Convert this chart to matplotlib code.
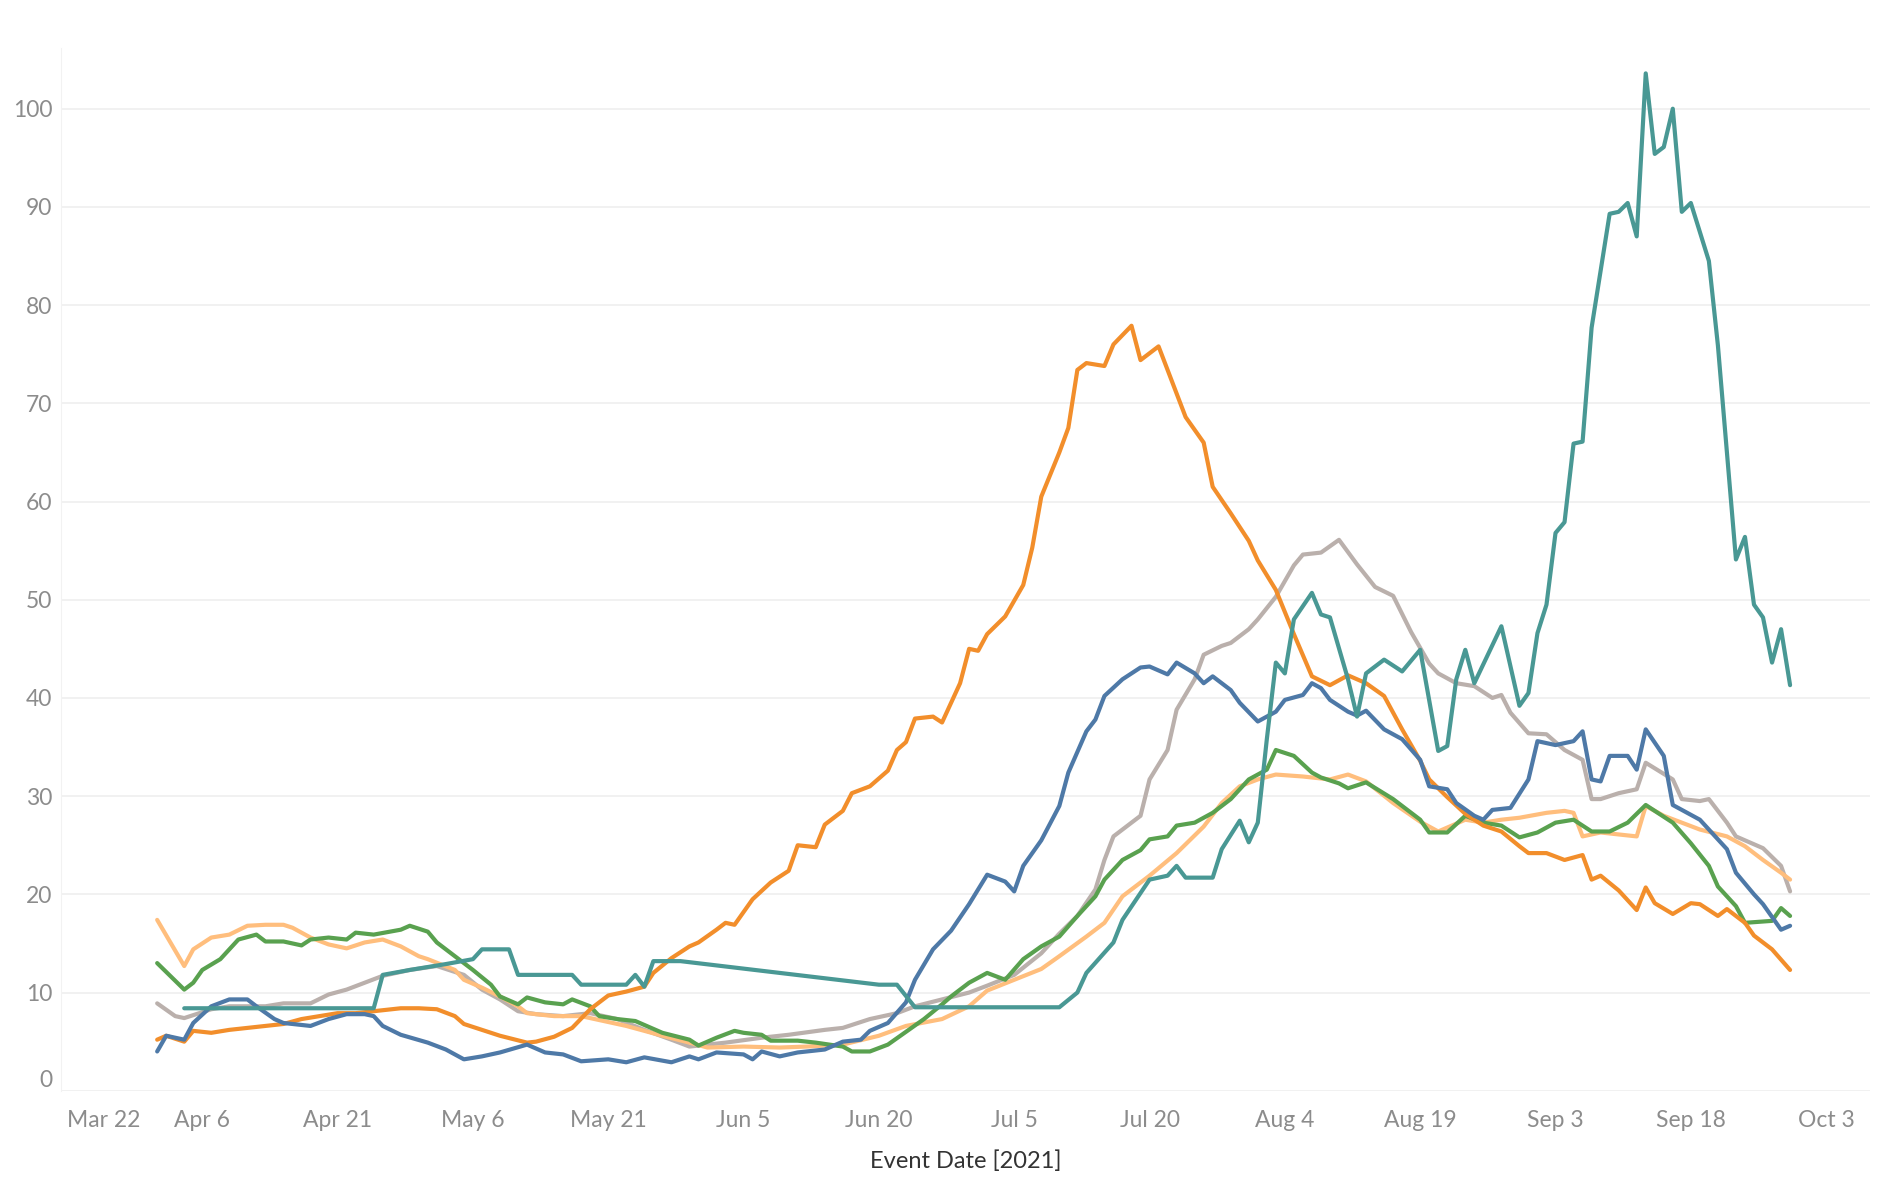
import numpy as np
import matplotlib
matplotlib.use('Agg')
import matplotlib.pyplot as plt
import matplotlib.dates as mdates

# day 0 = 2021-04-01, values are 7-day rates
start = np.datetime64('2021-04-01')

orange_days = [0, 1, 3, 4, 6, 8, 10, 12, 14, 16, 18, 20, 22, 24, 27, 29, 31, 33, 34, 36, 38, 41, 42, 44, 46,
               48, 50, 52, 54, 55, 57, 59, 60, 62, 63, 64, 66, 68, 70, 71, 73, 74, 76, 77, 79, 81, 82, 83, 84,
               86, 87, 89, 90, 91, 92, 94, 96, 97, 98, 100, 101, 102, 103, 105, 106, 108, 109, 111, 113, 114,
               116, 117, 119, 121, 122, 124, 126, 128, 130, 132, 134, 136, 138, 140, 141, 143, 145, 147, 149,
               151, 152, 154, 156, 158, 159, 160, 162, 164, 165, 166, 168, 170, 171, 173, 174, 176, 177, 179, 181]
orange_vals = [5.2, 5.6, 5.0, 6.1, 5.9, 6.2, 6.4, 6.6, 6.8, 7.3, 7.6, 7.9, 7.9, 8.1, 8.4, 8.4, 8.3, 7.6, 6.8,
               6.2, 5.6, 4.9, 5.0, 5.5, 6.4, 8.3, 9.7, 10.1, 10.6, 12.0, 13.5, 14.7, 15.1, 16.4, 17.1, 16.9,
               19.5, 21.2, 22.4, 25.0, 24.8, 27.1, 28.5, 30.3, 31.0, 32.6, 34.7, 35.5, 37.9, 38.1, 37.5, 41.5,
               45.0, 44.8, 46.5, 48.3, 51.5, 55.3, 60.5, 65.0, 67.5, 73.4, 74.1, 73.8, 76.0, 77.9, 74.4, 75.8,
               71.0, 68.6, 66.0, 61.5, 58.8, 56.0, 54.0, 51.0, 46.5, 42.2, 41.3, 42.3, 41.5, 40.2, 36.8, 33.6,
               31.7, 29.9, 28.2, 27.0, 26.4, 24.9, 24.2, 24.2, 23.5, 24.0, 21.5, 21.9, 20.4, 18.4, 20.7, 19.1,
               18.0, 19.1, 19.0, 17.8, 18.5, 17.1, 15.8, 14.4, 12.3]

peach_days = [0, 3, 4, 6, 8, 10, 12, 14, 15, 17, 19, 21, 23, 25, 27, 29, 30, 33, 34, 36, 38, 40, 41, 44, 47,
              52, 56, 59, 61, 65, 69, 72, 76, 80, 83, 87, 90, 92, 95, 98, 100, 103, 105, 107, 110, 113, 116,
              118, 120, 122, 124, 127, 130, 132, 134, 137, 140, 142, 145, 147, 149, 151, 154, 156, 157, 158,
              160, 162, 164, 165, 167, 169, 171, 174, 176, 178, 180, 181]
peach_vals = [17.4, 12.7, 14.4, 15.6, 15.9, 16.8, 16.9, 16.9, 16.6, 15.6, 14.9, 14.5, 15.1, 15.4, 14.7, 13.7,
              13.4, 12.3, 11.3, 10.5, 9.6, 8.6, 7.9, 7.6, 7.6, 6.6, 5.6, 4.9, 4.4, 4.5, 4.4, 4.5, 4.7, 5.6, 6.6,
              7.3, 8.6, 10.2, 11.3, 12.4, 13.7, 15.7, 17.1, 19.8, 21.9, 24.2, 26.9, 29.3, 31.0, 31.7, 32.2, 32.0,
              31.7, 32.2, 31.5, 29.3, 27.4, 26.4, 27.6, 27.3, 27.6, 27.8, 28.3, 28.5, 28.3, 25.9, 26.3, 26.1,
              25.9, 29.0, 28.0, 27.3, 26.6, 25.9, 24.9, 23.5, 22.2, 21.5]

green_days = [0, 3, 4, 5, 7, 9, 11, 12, 14, 16, 17, 19, 21, 22, 24, 27, 28, 30, 31, 33, 35, 37, 38, 40, 41, 43,
              45, 46, 48, 49, 51, 53, 56, 59, 60, 62, 64, 65, 67, 68, 71, 73, 76, 77, 79, 81, 83, 85, 87, 88,
              90, 92, 94, 96, 98, 100, 102, 104, 105, 107, 109, 110, 112, 113, 115, 117, 119, 121, 123, 124,
              126, 128, 129, 131, 132, 134, 137, 140, 141, 143, 145, 147, 149, 151, 153, 155, 157, 159, 161,
              163, 165, 168, 170, 172, 173, 175, 176, 179, 180, 181]
green_vals = [13.0, 10.3, 11.0, 12.3, 13.4, 15.4, 15.9, 15.2, 15.2, 14.8, 15.4, 15.6, 15.4, 16.1, 15.9, 16.4,
              16.8, 16.2, 15.1, 13.7, 12.3, 10.8, 9.6, 8.8, 9.5, 9.0, 8.8, 9.3, 8.6, 7.6, 7.3, 7.1, 5.9, 5.2,
              4.6, 5.4, 6.1, 5.9, 5.7, 5.1, 5.1, 4.9, 4.5, 4.0, 4.0, 4.7, 6.0, 7.3, 8.8, 9.6, 11.0, 12.0, 11.3,
              13.4, 14.7, 15.7, 17.8, 19.8, 21.5, 23.5, 24.5, 25.6, 25.9, 27.0, 27.3, 28.3, 29.7, 31.7, 32.7,
              34.7, 34.1, 32.4, 31.9, 31.3, 30.8, 31.4, 29.7, 27.6, 26.3, 26.3, 28.0, 27.3, 27.0, 25.8, 26.3,
              27.3, 27.6, 26.4, 26.4, 27.3, 29.1, 27.3, 25.2, 22.9, 20.8, 18.8, 17.1, 17.3, 18.6, 17.8]

grey_days = [0, 2, 3, 6, 8, 12, 14, 17, 19, 21, 23, 25, 28, 31, 34, 36, 38, 40, 42, 45, 48, 51, 54, 57, 59, 63,
             67, 70, 74, 76, 79, 82, 84, 87, 90, 92, 95, 98, 100, 102, 104, 105, 106, 108, 109, 110, 112, 113,
             115, 116, 118, 119, 121, 122, 124, 126, 127, 129, 131, 133, 135, 137, 139, 141, 142, 144, 146,
             148, 149, 150, 152, 154, 156, 158, 159, 160, 162, 164, 165, 168, 169, 171, 172, 174, 175, 178,
             180, 181]
grey_vals = [8.9, 7.6, 7.4, 8.3, 8.6, 8.6, 8.9, 8.9, 9.8, 10.3, 11.0, 11.7, 12.3, 12.7, 11.8, 10.3, 9.3, 8.1,
             7.8, 7.6, 7.9, 7.3, 6.2, 5.2, 4.5, 4.9, 5.4, 5.7, 6.2, 6.4, 7.3, 7.9, 8.6, 9.3, 10.0, 10.7, 11.8,
             14.0, 16.0, 17.8, 20.5, 23.5, 25.9, 27.3, 28.0, 31.7, 34.7, 38.8, 41.9, 44.4, 45.3, 45.6, 47.0,
             48.0, 50.3, 53.5, 54.6, 54.8, 56.1, 53.6, 51.3, 50.4, 46.7, 43.5, 42.5, 41.5, 41.2, 40.0, 40.3,
             38.5, 36.4, 36.3, 34.7, 33.7, 29.7, 29.7, 30.3, 30.7, 33.4, 31.7, 29.7, 29.5, 29.7, 27.3, 25.9,
             24.7, 22.9, 20.3]

blue_days = [0, 1, 3, 4, 6, 8, 10, 11, 13, 14, 17, 19, 21, 23, 24, 25, 27, 30, 32, 34, 36, 38, 41, 43, 45, 47,
             50, 52, 54, 57, 59, 60, 62, 65, 66, 67, 69, 71, 74, 76, 78, 79, 81, 83, 84, 86, 88, 90, 92, 94,
             95, 96, 98, 100, 101, 103, 104, 105, 107, 109, 110, 112, 113, 115, 116, 117, 119, 120, 122, 124,
             125, 127, 128, 129, 130, 132, 133, 134, 136, 138, 140, 141, 143, 144, 146, 147, 148, 150, 152,
             153, 155, 157, 158, 159, 160, 161, 163, 164, 165, 167, 168, 171, 172, 174, 175, 177, 178, 180, 181]
blue_vals = [4.0, 5.6, 5.2, 6.9, 8.6, 9.3, 9.3, 8.6, 7.3, 6.9, 6.6, 7.3, 7.8, 7.8, 7.6, 6.6, 5.7, 4.9, 4.2, 3.2,
             3.5, 3.9, 4.7, 3.9, 3.7, 3.0, 3.2, 2.9, 3.4, 2.9, 3.5, 3.2, 3.9, 3.7, 3.2, 4.0, 3.5, 3.9, 4.2, 5.0,
             5.2, 6.1, 6.9, 9.0, 11.3, 14.4, 16.3, 19.0, 22.0, 21.3, 20.3, 22.9, 25.5, 29.0, 32.4, 36.6, 37.8,
             40.2, 41.9, 43.1, 43.2, 42.4, 43.6, 42.5, 41.5, 42.2, 40.8, 39.5, 37.6, 38.6, 39.8, 40.3, 41.5,
             41.0, 39.8, 38.6, 38.2, 38.7, 36.8, 35.8, 33.7, 31.0, 30.7, 29.3, 28.0, 27.6, 28.6, 28.8, 31.7,
             35.6, 35.2, 35.6, 36.6, 31.7, 31.5, 34.1, 34.1, 32.7, 36.8, 34.1, 29.1, 27.6, 26.6, 24.6, 22.2,
             20.0, 19.0, 16.4, 16.8]

teal_days = [3, 24, 25, 28, 32, 35, 36, 39, 40, 46, 47, 52, 53, 54, 55, 58, 80, 82, 84, 100, 102, 103, 106, 107,
             110, 112, 113, 114, 117, 118, 120, 121, 122, 123, 124, 125, 126, 128, 129, 130, 132, 133, 134,
             136, 138, 140, 142, 143, 144, 145, 146, 149, 151, 152, 153, 154, 155, 156, 157, 158, 159, 161,
             162, 163, 164, 165, 166, 167, 168, 169, 170, 172, 173, 175, 176, 177, 178, 179, 180, 181]
teal_vals = [8.4, 8.4, 11.8, 12.3, 12.9, 13.4, 14.4, 14.4, 11.8, 11.8, 10.8, 10.8, 11.8, 10.6, 13.2, 13.2,
             10.8, 10.8, 8.5, 8.5, 10.0, 12.0, 15.1, 17.4, 21.5, 21.9, 22.9, 21.7, 21.7, 24.6, 27.5, 25.3,
             27.3, 35.8, 43.6, 42.5, 48.0, 50.7, 48.5, 48.2, 41.9, 38.1, 42.5, 43.9, 42.7, 44.9, 34.6, 35.1,
             41.9, 44.9, 41.5, 47.3, 39.2, 40.5, 46.6, 49.5, 56.8, 57.9, 65.9, 66.1, 77.7, 89.3, 89.5, 90.4,
             87.0, 103.6, 95.4, 96.1, 100.0, 89.5, 90.4, 84.5, 75.9, 54.1, 56.4, 49.5, 48.2, 43.6, 47.0, 41.3]

tick_labels = ['Mar 22', 'Apr 6', 'Apr 21', 'May 6', 'May 21', 'Jun 5', 'Jun 20', 'Jul 5', 'Jul 20',
               'Aug 4', 'Aug 19', 'Sep 3', 'Sep 18', 'Oct 3']
tick_dates = np.datetime64('2021-03-22') + np.arange(0, 15 * len(tick_labels), 15).astype('timedelta64[D]')
y_ticks = list(range(0, 101, 10))

plt.rcParams['font.family'] = ['Lato', 'DejaVu Sans']

fig = plt.figure(figsize=(18.95, 11.96), dpi=100)
ax = fig.add_axes([0.032, 0.088, 0.955, 0.872])

series = [
    (grey_days, grey_vals, '#BAB0AC'),
    (peach_days, peach_vals, '#FFBE7D'),
    (green_days, green_vals, '#59A14F'),
    (orange_days, orange_vals, '#F28E2B'),
    (blue_days, blue_vals, '#4E79A7'),
    (teal_days, teal_vals, '#499894'),
]
for days, vals, color in series:
    dates = start + np.array(days).astype('timedelta64[D]')
    ax.plot(dates, vals, color=color, lw=3.0, solid_joinstyle='round', solid_capstyle='round')

s0 = mdates.date2num(start)
ax.set_xlim(s0 - 10.7, s0 + 189.9)
ax.set_ylim(0, 106.2)

ax.set_xticks(tick_dates)
ax.set_xticklabels(tick_labels)
ax.set_yticks(y_ticks)
ax.tick_params(axis='both', length=0, labelsize=16.5, labelcolor='#8c8c8c')
ax.tick_params(axis='x', pad=14)
ax.tick_params(axis='y', pad=6)
ax.get_xticklabels()[0].set_horizontalalignment('left')
ax.get_yticklabels()[0].set_verticalalignment('bottom')

ax.grid(axis='y', color='#f0f0f0', lw=1.3)
ax.set_axisbelow(True)
for side in ['top', 'right', 'bottom']:
    ax.spines[side].set_visible(False)
ax.spines['left'].set_color('#f2f2f2')

ax.set_xlabel('Event Date [2021]', fontsize=17, color='#333333', labelpad=14)

fig.savefig('out.png', dpi=100)
